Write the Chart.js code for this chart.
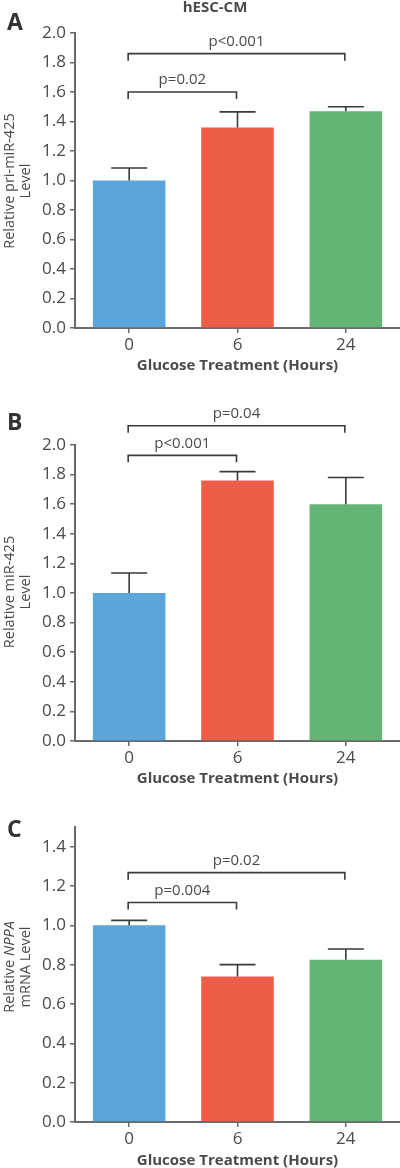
<!DOCTYPE html>
<html lang="en">
<head>
<meta charset="UTF-8">
<title>hESC-CM glucose treatment</title>
<script src="https://cdn.jsdelivr.net/npm/chart.js"></script>
<style>
  body { margin: 0; background: #fff; }
  #wrap { position: relative; width: 400px; height: 1168px; overflow: hidden; }
  canvas { position: absolute; left: 0; }
</style>
</head>
<body>
<div id="wrap">
  <canvas id="chartA" width="400" height="380" style="top:0px"></canvas>
  <canvas id="chartB" width="400" height="413" style="top:380px"></canvas>
  <canvas id="chartC" width="400" height="385" style="top:790px"></canvas>
</div>
<script>
// categories
const hours = ['0', '6', '24'];
const barColors = ['#5aa5dc', '#ee5d48', '#63b475'];

// panel A: relative pri-miR-425 level
const priMirMean = [1.00, 1.36, 1.47];
const priMirErr = [0.085, 0.105, 0.03];
const priMirPvals = [
  { from: 0, to: 1, y: 1.60, label: 'p=0.02' },
  { from: 0, to: 2, y: 1.86, label: 'p<0.001' }
];

// panel B: relative miR-425 level
const mirMean = [1.00, 1.76, 1.60];
const mirErr = [0.135, 0.06, 0.18];
const mirPvals = [
  { from: 0, to: 1, y: 1.93, label: 'p<0.001' },
  { from: 0, to: 2, y: 2.13, label: 'p=0.04' }
];

// panel C: relative NPPA mRNA level
const nppaMean = [1.00, 0.74, 0.825];
const nppaErr = [0.025, 0.06, 0.055];
const nppaPvals = [
  { from: 0, to: 1, y: 1.116, label: 'p=0.004' },
  { from: 0, to: 2, y: 1.268, label: 'p=0.02' }
];

const FONT = "'Open Sans', 'Noto Sans', sans-serif";
const TEXT = '#4a4a4a';
const AXIS = '#6a6a6a';
const INK = '#3a3a3a';

// error bars, significance brackets, panel letter and y title
function makeExtras(p) {
  return {
    id: 'extras' + p.letter,
    afterDatasetsDraw(chart) {
      const ctx = chart.ctx;
      const xs = chart.scales.x, ys = chart.scales.y;
      ctx.save();
      ctx.strokeStyle = INK;
      ctx.lineWidth = 1.6;
      p.means.forEach((m, i) => {
        const cx = xs.getPixelForValue(i);
        const y0 = ys.getPixelForValue(m);
        const y1 = ys.getPixelForValue(m + p.errs[i]);
        ctx.beginPath();
        ctx.moveTo(cx, y0);
        ctx.lineTo(cx, y1);
        ctx.moveTo(cx - 18, y1);
        ctx.lineTo(cx + 18, y1);
        ctx.stroke();
      });
      ctx.font = '15px ' + FONT;
      ctx.fillStyle = TEXT;
      ctx.textAlign = 'center';
      ctx.textBaseline = 'middle';
      p.pvals.forEach(b => {
        const xa = xs.getPixelForValue(b.from) - 1;
        const xb = xs.getPixelForValue(b.to) - 1;
        const yy = ys.getPixelForValue(b.y);
        ctx.beginPath();
        ctx.moveTo(xa, yy + 7);
        ctx.lineTo(xa, yy);
        ctx.lineTo(xb, yy);
        ctx.lineTo(xb, yy + 7);
        ctx.stroke();
        ctx.fillText(b.label, (xa + xb) / 2, yy - 12);
      });
      // panel letter
      ctx.font = 'bold 23px ' + FONT;
      ctx.fillStyle = '#333';
      ctx.textAlign = 'left';
      ctx.fillText(p.letter, 7, p.letterY);
      if (p.heading) {
        ctx.font = 'bold 15px ' + FONT;
        ctx.fillStyle = TEXT;
        ctx.textAlign = 'center';
        ctx.fillText(p.heading, 215, 8);
      }
      // y title, two rotated lines, parts may be italic
      ctx.translate(0, p.titleY);
      ctx.rotate(-Math.PI / 2);
      ctx.fillStyle = TEXT;
      ctx.textAlign = 'left';
      p.ytitle.forEach((line, li) => {
        let w = 0;
        line.forEach(part => {
          ctx.font = (part.it ? 'italic ' : '') + '14.5px ' + FONT;
          w += ctx.measureText(part.t).width;
        });
        let x = -w / 2;
        line.forEach(part => {
          ctx.font = (part.it ? 'italic ' : '') + '14.5px ' + FONT;
          ctx.fillText(part.t, x, 9.5 + li * 16);
          x += ctx.measureText(part.t).width;
        });
      });
      ctx.restore();
    }
  };
}

function buildChart(id, p) {
  return new Chart(document.getElementById(id), {
    type: 'bar',
    data: {
      labels: hours,
      datasets: [{
        data: p.means,
        backgroundColor: barColors,
        barPercentage: 0.67,
        categoryPercentage: 1
      }]
    },
    options: {
      responsive: false,
      animation: false,
      layout: { padding: { top: p.padTop, left: 0, right: 0, bottom: 0 } },
      plugins: { legend: { display: false }, tooltip: { enabled: false } },
      scales: {
        x: {
          afterFit: s => { s.height = p.xHeight; },
          grid: { display: true, drawOnChartArea: false, offset: false, tickLength: 5, color: AXIS, lineWidth: 1.5 },
          border: { display: true, color: AXIS, width: 2 },
          ticks: { color: TEXT, font: { family: FONT, size: 17 }, padding: 2 },
          title: {
            display: true, text: 'Glucose Treatment (Hours)', color: TEXT,
            font: { family: FONT, size: 15, weight: 'bold' }, padding: { top: 0, bottom: 5 }
          }
        },
        y: {
          min: 0, max: p.yMax,
          afterFit: s => { s.width = 75; },
          grid: { display: true, drawOnChartArea: false, tickLength: 5, color: AXIS, lineWidth: 1.5 },
          border: { display: true, color: AXIS, width: 2 },
          ticks: {
            stepSize: 0.2, includeBounds: false, padding: 4, color: TEXT,
            font: { family: FONT, size: 17 },
            callback: v => v.toFixed(1)
          }
        }
      }
    },
    plugins: [makeExtras(p)]
  });
}

buildChart('chartA', {
  letter: 'A', letterY: 23, heading: 'hESC-CM', titleY: 181,
  means: priMirMean, errs: priMirErr, pvals: priMirPvals,
  yMax: 2.0, padTop: 33, xHeight: 52,
  ytitle: [[{ t: 'Relative pri-miR-425' }], [{ t: 'Level' }]]
});
buildChart('chartB', {
  letter: 'B', letterY: 43, titleY: 212,
  means: mirMean, errs: mirErr, pvals: mirPvals,
  yMax: 2.0, padTop: 65, xHeight: 52,
  ytitle: [[{ t: 'Relative miR-425' }], [{ t: 'Level' }]]
});
buildChart('chartC', {
  letter: 'C', letterY: 40, titleY: 177,
  means: nppaMean, errs: nppaErr, pvals: nppaPvals,
  yMax: 1.5, padTop: 37, xHeight: 53,
  ytitle: [[{ t: 'Relative ' }, { t: 'NPPA', it: true }], [{ t: 'mRNA Level' }]]
});
</script>
</body>
</html>
